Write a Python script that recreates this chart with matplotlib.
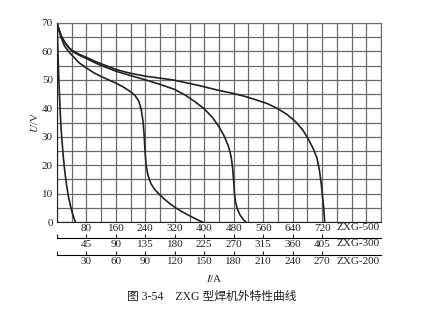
import matplotlib
matplotlib.use('Agg')
import matplotlib.pyplot as plt
import numpy as np

plt.rcParams['font.family'] = ['Liberation Serif', 'Noto Sans CJK SC']
plt.rcParams['mathtext.fontset'] = 'stix'

# 外特性曲线数据 (I/A 按 ZXG-500 刻度, U/V)
curve1_i = [0, 1, 2, 3, 5, 7, 9, 11, 14, 17, 21, 26, 31, 37, 43, 50]
curve1_u = [70, 66, 62, 58, 50, 44, 38, 33, 28, 23, 18, 13, 9, 5.5, 2.5, 0]

curve2_i = [0, 5, 10, 20, 30, 42, 60, 82, 100, 121, 140, 161, 180, 200, 212, 222, 229, 234,
            237, 239, 242, 247, 255, 265, 278, 292, 305, 322, 340, 360, 378, 395]
curve2_u = [70, 67.5, 65.3, 62, 60.2, 58.5, 56, 54, 52.5, 51.1, 50, 48.8, 47.5, 45.8, 44.5, 42.5,
            39.5, 35, 30, 25, 20, 16.5, 13.5, 11.5, 9.7, 8, 6.6, 5, 3.6, 2.2, 1, 0]

curve3_i = [0, 5, 12, 22, 32, 42, 60, 82, 100, 121, 161, 200, 240, 278, 320, 350, 375, 400,
            422, 440, 455, 466, 473, 477, 480, 482, 485, 490, 497, 505, 513]
curve3_u = [70, 67.8, 65.3, 63, 61.3, 60, 58.7, 57.4, 56.2, 55, 53, 51.5, 50, 48.5, 46.6, 44.5,
            42.3, 39.8, 36.8, 33.5, 30, 26.5, 23, 19, 14, 10, 7, 4.5, 2.5, 1, 0]

curve4_i = [0, 5, 12, 22, 32, 42, 60, 82, 100, 121, 161, 200, 240, 280, 314, 350, 386, 436,
            476, 510, 540, 570, 598, 625, 648, 668, 684, 697, 706, 713, 718, 722, 725, 727]
curve4_u = [70, 67.8, 65.3, 63, 61.4, 60.3, 59, 57.8, 56.7, 55.6, 53.6, 52.3, 51.3, 50.6, 50,
            49, 48, 46.4, 45.3, 44.2, 43, 41.7, 40, 37.8, 35.3, 32.3, 28.8, 25.5, 22.5, 18, 13,
            8, 4, 0]

# 刻度
ticks_500 = [80, 160, 240, 320, 400, 480, 560, 640, 720]
ticks_300 = [45, 90, 135, 180, 225, 270, 315, 360, 405]
ticks_200 = [30, 60, 90, 120, 150, 180, 210, 240, 270]
y_ticks = [0, 10, 20, 30, 40, 50, 60, 70]

fig = plt.figure(figsize=(4.34, 3.12), dpi=100)
ax = fig.add_axes([57 / 434, 1 - 222 / 312, 324 / 434, 199 / 312])

# 网格
for x in np.arange(0, 881, 40):
    ax.axvline(x, color='#6a6a6a', lw=0.9, zorder=1)
for y in np.arange(0, 71, 5):
    ax.axhline(y, color='#6a6a6a', lw=0.9, zorder=1)

for ci, cu in [(curve1_i, curve1_u), (curve2_i, curve2_u),
               (curve3_i, curve3_u), (curve4_i, curve4_u)]:
    ax.plot(ci, cu, color='#222222', lw=1.2, zorder=3)

ax.set_xlim(0, 880)
ax.set_ylim(0, 70)
for s in ax.spines.values():
    s.set_color('#6a6a6a')
ax.spines['left'].set_color('#222222')
ax.spines['bottom'].set_color('#222222')

ax.set_xticks(ticks_500)
ax.set_yticks(y_ticks)
ax.tick_params(length=0, labelsize=8, colors='#222222')
ax.tick_params(axis='x', pad=1.5)
ax.tick_params(axis='y', pad=3)

# 第二、三刻度轴
sec300 = ax.secondary_xaxis(-0.08, functions=(lambda x: x * 405 / 720, lambda x: x * 720 / 405))
sec300.set_xticks([0] + ticks_300, [''] + [str(t) for t in ticks_300])
sec300.tick_params(direction='in', length=3, labelsize=8, pad=1.2, colors='#222222')

sec200 = ax.secondary_xaxis(-0.166, functions=(lambda x: x * 270 / 720, lambda x: x * 720 / 270))
sec200.set_xticks([0] + ticks_200, [''] + [str(t) for t in ticks_200])
sec200.tick_params(direction='in', length=3, labelsize=8, pad=1.2, colors='#222222')

fig.text(380 / 434, 1 - 228 / 312, 'ZXG-500', ha='right', va='center', fontsize=8, color='#222222')
fig.text(380 / 434, 1 - 244 / 312, 'ZXG-300', ha='right', va='center', fontsize=8, color='#222222')
fig.text(380 / 434, 1 - 262 / 312, 'ZXG-200', ha='right', va='center', fontsize=8, color='#222222')

fig.text(214 / 434, 1 - 278 / 312, r'$I$/A', ha='center', va='center', fontsize=8, color='#222222')
fig.text(34 / 434, 1 - 122 / 312, r'$U$/V', ha='center', va='center', rotation=90, fontsize=8, color='#222222')
fig.text(212 / 434, 1 - 297 / 312, '图 3-54    ZXG 型焊机外特性曲线', ha='center', va='center',
         fontsize=8.5, color='#222222')

fig.savefig('out.png', dpi=100)
